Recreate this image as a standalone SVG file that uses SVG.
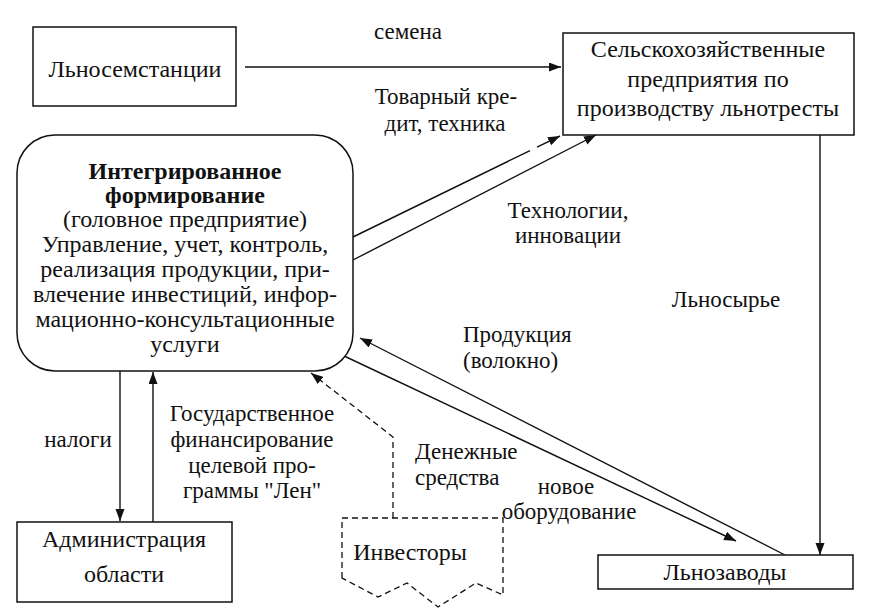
<svg xmlns="http://www.w3.org/2000/svg" width="870" height="610" viewBox="0 0 870 610">
<defs>
<marker id="ah" markerWidth="13" markerHeight="10" refX="12" refY="4.5" orient="auto" markerUnits="userSpaceOnUse">
<path d="M0,0 L12,4.5 L0,9 z" fill="#111"/>
</marker>
<style>
.box{fill:#fff;stroke:#111;stroke-width:1.5}
.c{fill:none;stroke:#111;stroke-width:1.4}
.d{fill:none;stroke:#111;stroke-width:1.3;stroke-dasharray:6,4}
</style>
</defs>
<rect width="870" height="610" fill="#fff"/>
<g id="connectors">
<line class="c" x1="245" y1="67" x2="561" y2="67" marker-end="url(#ah)"/>
<line class="c" x1="353" y1="237" x2="530" y2="150.6"/>
<line class="c" x1="537" y1="147.2" x2="560" y2="136" marker-end="url(#ah)"/>
<line class="c" x1="353" y1="260" x2="596" y2="135" marker-end="url(#ah)"/>
<line class="c" x1="820" y1="135" x2="820" y2="555" marker-end="url(#ah)"/>
<line class="c" x1="785" y1="555" x2="360" y2="338" marker-end="url(#ah)"/>
<line class="c" x1="342" y1="355" x2="736" y2="541" marker-end="url(#ah)"/>
<line class="c" x1="120" y1="371" x2="120" y2="521" marker-end="url(#ah)"/>
<line class="c" x1="153" y1="522" x2="153" y2="372" marker-end="url(#ah)"/>
<polyline class="d" points="393,518 393,437 311,373" marker-end="url(#ah)"/>
<g font-family="'Liberation Serif', 'Times New Roman', serif" font-size="23" fill="#111" text-anchor="middle">
<text x="408" y="39">семена</text>
<text x="446" y="104">Товарный кре-</text>
<text x="445" y="131">дит, техника</text>
<text x="568" y="218">Технологии,</text>
<text x="568" y="243">инновации</text>
<text x="726" y="307">Льносырье</text>
<text x="463" y="342" text-anchor="start">Продукция</text>
<text x="463" y="368" text-anchor="start">(волокно)</text>
<text x="415" y="459" text-anchor="start">Денежные</text>
<text x="415" y="485" text-anchor="start">средства</text>
<text x="566" y="494">новое</text>
<text x="569" y="519">оборудование</text>
<text x="78" y="447">налоги</text>
<text x="252" y="421">Государственное</text>
<text x="252" y="447">финансирование</text>
<text x="252" y="473">целевой про-</text>
<text x="252" y="498">граммы "Лен"</text>
</g>
</g>
<g font-family="'Liberation Serif', 'Times New Roman', serif" font-size="24" fill="#111" text-anchor="middle">
<g id="node-lnosemstancii">
<rect class="box" x="33" y="27" width="203" height="79"/>
<text x="135" y="77">Льносемстанции</text>
</g>
<g id="node-selhoz">
<rect class="box" x="563" y="33" width="291" height="102"/>
<text x="708" y="57">Сельскохозяйственные</text>
<text x="708" y="87">предприятия по</text>
<text x="708" y="116">производству льнотресты</text>
</g>
<g id="node-integrated">
<rect class="box" x="17" y="135" width="336" height="236" rx="38" ry="38"/>
<text x="185" y="179" font-weight="bold">Интегрированное</text>
<text x="185" y="203" font-weight="bold">формирование</text>
<text x="185" y="227">(головное предприятие)</text>
<text x="185" y="252">Управление, учет, контроль,</text>
<text x="185" y="277">реализация продукции, при-</text>
<text x="185" y="302">влечение инвестиций, инфор-</text>
<text x="185" y="327">мационно-консультационные</text>
<text x="185" y="352">услуги</text>
</g>
<g id="node-admin">
<rect class="box" x="17" y="522" width="215" height="80"/>
<text x="124" y="547">Администрация</text>
<text x="124" y="582">области</text>
</g>
<g id="node-investors">
<path class="d" d="M342,578 L342,518 L503,518 L503,595 L476,583 L438,607 L407,583 L378,597 Z"/>
<text x="410" y="560">Инвесторы</text>
</g>
<g id="node-lnozavody">
<rect class="box" x="598" y="555" width="255" height="34"/>
<text x="725" y="580">Льнозаводы</text>
</g>
</g>
</svg>
